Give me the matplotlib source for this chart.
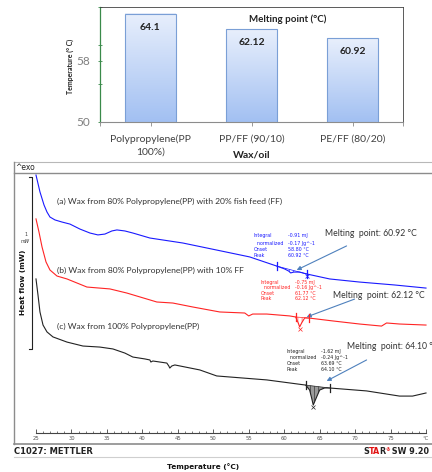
import numpy as np
import matplotlib
matplotlib.use("Agg")
import matplotlib.pyplot as plt
from matplotlib.ticker import MultipleLocator, FixedLocator
from matplotlib.colors import LinearSegmentedColormap

# ---------------- bar chart data ----------------
categories = ["Polypropylene(PP\n100%)", "PP/FF (90/10)", "PE/FF (80/20)"]
melting_points = [64.1, 62.12, 60.92]
bar_labels = ["64.1", "62.12", "60.92"]
bar_yticks = [50, 58]

# ---------------- DSC data (temperature °C, heat flow mW, exo up) ----------------
temp_a = [25.0, 25.56, 26.13, 26.55, 26.97, 27.68, 28.66, 29.79, 31.20, 32.61, 33.73,
          34.72, 35.70, 36.41, 37.54, 38.66, 41.06, 45.70, 50.49, 55.14, 58.94, 60.07,
          60.63, 60.92, 61.34, 62.18, 63.17, 66.41, 70.63, 75.56, 80.0]
hf_a = [-0.012, -0.110, -0.186, -0.227, -0.256, -0.273, -0.285, -0.297, -0.326, -0.349,
        -0.360, -0.355, -0.337, -0.331, -0.337, -0.349, -0.378, -0.407, -0.448, -0.488,
        -0.541, -0.558, -0.570, -0.581, -0.576, -0.576, -0.587, -0.616, -0.634, -0.651, -0.669]

temp_b = [25.0, 25.42, 25.85, 26.41, 26.97, 27.96, 29.37, 32.18, 35.42, 37.82, 42.04,
          44.30, 47.11, 50.92, 54.44, 55.0, 55.56, 57.54, 60.77, 61.62, 62.04, 62.18,
          62.46, 62.89, 63.45, 66.83, 70.63, 73.73, 74.44, 76.27, 80.0]
hf_b = [-0.267, -0.343, -0.430, -0.517, -0.564, -0.599, -0.616, -0.663, -0.674, -0.698,
        -0.750, -0.756, -0.779, -0.808, -0.814, -0.831, -0.820, -0.820, -0.831, -0.837,
        -0.878, -0.895, -0.872, -0.843, -0.843, -0.860, -0.878, -0.890, -0.872, -0.878, -0.884]

temp_c = [25.0, 25.28, 25.56, 25.99, 26.55, 27.39, 29.37, 31.62, 34.01, 35.85, 37.54,
          38.66, 40.35, 41.06, 41.20, 41.48, 43.45, 43.73, 43.87, 44.15, 44.58, 48.10,
          50.49, 57.54, 63.03, 63.59, 63.87, 64.10, 64.58, 65.0, 65.70, 66.41, 71.62,
          76.27, 78.10, 80.0]
hf_c = [-0.616, -0.709, -0.808, -0.884, -0.924, -0.953, -0.983, -1.006, -1.012, -1.023,
        -1.047, -1.070, -1.081, -1.087, -1.099, -1.093, -1.105, -1.122, -1.134, -1.122,
        -1.116, -1.145, -1.180, -1.203, -1.233, -1.262, -1.308, -1.349, -1.302, -1.262,
        -1.250, -1.250, -1.267, -1.297, -1.297, -1.279]

curve_labels = ["(a) Wax from 80% Polypropylene(PP) with 20% fish feed (FF)",
                "(b) Wax from 80% Polypropylene(PP) with 10% FF",
                "(c) Wax from 100% Polypropylene(PP)"]
int_ranges = [(58.94, 63.17), (61.62, 63.45), (63.03, 66.41)]
peak_temps = [60.92, 62.12, 64.10]
info_names = ["Integral", "  normalized", "Onset", "Peak"]
info_a = ["-0.91 mJ", "-0.17 Jg^-1", "58.80 \u00b0C", "60.92 \u00b0C"]
info_b = ["-0.75 mJ", "-0.16 Jg^-1", "61.77 \u00b0C", "62.12 \u00b0C"]
info_c = ["-1.62 mJ", "-0.24 Jg^-1", "63.69 \u00b0C", "64.10 \u00b0C"]
mp_texts = ["Melting  point: 60.92 \u00b0C", "Melting  point: 62.12 \u00b0C",
            "Melting  point: 64.10 \u00b0C"]
dsc_ticks = [25, 30, 35, 40, 45, 50, 55, 60, 65, 70, 75, 80]
dsc_ticklabels = ["25", "30", "35", "40", "45", "50", "55", "60", "65", "70", "75", "\u00b0C"]

plt.rcParams['font.family'] = ['Lato', 'DejaVu Sans']
plt.rcParams['hatch.linewidth'] = 0.4

W, H = 432, 472
fig = plt.figure(figsize=(W / 100, H / 100), dpi=100)

def frac(x0, y0, x1, y1):
    return [x0 / W, 1 - y1 / H, (x1 - x0) / W, (y1 - y0) / H]

# ---------------- overlay (frame lines, fixed texts) ----------------
ov = fig.add_axes([0, 0, 1, 1], zorder=0)
ov.set_xlim(0, W); ov.set_ylim(H, 0); ov.axis('off')
ov.plot([14, W], [162, 162], color='#b8b8b8', lw=0.8)
ov.plot([14, W], [173, 173], color='#8c8c8c', lw=1.0)
ov.plot([14, 14], [162, 444], color='#8c8c8c', lw=1.0)
ov.plot([14, W], [444, 444], color='#8c8c8c', lw=1.2)
ov.plot([14, W], [456.5, 456.5], color='#cfcfcf', lw=0.8)
ov.text(15, 167.5, "^exo", fontsize=5.5, family='DejaVu Sans', ha='left', va='center', color='#222')
ov.text(14, 451, "C1027: METTLER", fontsize=6, family='DejaVu Sans', fontweight='bold',
        ha='left', va='center', color='#222')
ov.text(203, 467, "Temperature (\u00b0C)", fontsize=5.3, family='DejaVu Sans', fontweight='bold',
        ha='center', va='center', color='#111')
ov.text(23, 282, "Heat flow (mW)", fontsize=5.3, family='DejaVu Sans', fontweight='bold',
        rotation=90, ha='center', va='center', color='#111')
ov.text(25.5, 235, "1", fontsize=3.3, family='DejaVu Sans', ha='center', va='center', color='#333')
ov.text(25.5, 241.5, "mW", fontsize=3.3, family='DejaVu Sans', style='italic', ha='center',
        va='center', color='#333')

# STAR(R) SW 9.20 logo text, pieces chained left to right
tp = dict(fontsize=5.8, family='DejaVu Sans', fontweight='bold')
tS = ov.text(363, 451, "S", ha='left', va='center', color='#222', **tp)
tTA = ov.annotate("TA", xy=(1, 0), xycoords=tS, ha='left', va='bottom', color='#e01010', **tp)
tR = ov.annotate("R", xy=(1, 0), xycoords=tTA, xytext=(-0.4, 0), textcoords='offset points',
                 ha='left', va='bottom', color='#222', **tp)
tReg = ov.annotate("\u00ae", xy=(1, 0.95), xycoords=tR, ha='left', va='top', color='#e01010',
                   fontsize=3.5, family='DejaVu Sans', fontweight='bold')
tSW = ov.annotate(" SW 9.20", xy=(1, 0), xycoords=tR, xytext=(2.6, 0), textcoords='offset points',
                  ha='left', va='bottom', color='#222', **tp)

# ---------------- bar chart ----------------
axb = fig.add_axes(frac(100, 7, 403, 122), zorder=2)
x = np.arange(len(categories))
bars = axb.bar(x, melting_points, width=0.5, facecolor='none', edgecolor='#7a9fd6', lw=0.8, zorder=3)
cmap = LinearSegmentedColormap.from_list('g', ['#a2c0f2', '#e8effc'])
grad = np.linspace(0, 1, 256).reshape(-1, 1)
for b in bars:
    bx, bw, bh = b.get_x(), b.get_width(), b.get_height()
    axb.imshow(grad, cmap=cmap, origin='lower', aspect='auto',
               extent=(bx, bx + bw, 50, bh), zorder=2)
for xi, v, lab in zip(x, melting_points, bar_labels):
    axb.text(xi, v - 1.75, lab, ha='center', va='center', fontsize=7.5, fontweight='bold', color='#222')
axb.set_xlim(-0.5, 2.5)
axb.set_ylim(50, 65)
axb.set_yticks(bar_yticks)
axb.set_yticklabels([str(t) for t in bar_yticks], fontsize=8.5, color='#7f7f7f')
axb.yaxis.set_minor_locator(FixedLocator([55, 60, 65]))
axb.tick_params(axis='y', which='both', direction='inout', length=3, width=0.6, colors='#3a8a4a',
                pad=6, labelcolor='#7f7f7f')
axb.set_xticks(x)
axb.set_xticklabels(categories, fontsize=7.5, color='#404040', linespacing=1.5)
axb.xaxis.set_minor_locator(FixedLocator([-0.5, 2.5]))
axb.tick_params(axis='x', which='both', direction='out', length=3, width=0.6, colors='#888888',
                pad=6, labelcolor='#404040')
axb.spines['left'].set_color('#3a8a4a')
axb.spines['left'].set_linewidth(0.9)
axb.spines['bottom'].set_color('#8c8c8c')
for s in ('top', 'right'):
    axb.spines[s].set_color('#404040')
    axb.spines[s].set_linewidth(0.6)
axb.text(0.62, 0.896, "Melting point (\u00b0C)", transform=axb.transAxes, ha='center', va='center',
         fontsize=7, fontweight='bold', color='#222')
axb.text(0.502, -0.29, "Wax/oil", transform=axb.transAxes, ha='center', va='center',
         fontsize=7.5, fontweight='bold', color='#222')
axb.text(-0.099, 0.487, "Temperature (\u00b0 C)", transform=axb.transAxes, ha='center', va='center',
         rotation=90, fontsize=5, fontweight='bold', color='#222')

# ---------------- DSC ----------------
axd = fig.add_axes(frac(36, 173, 426, 433), zorder=2)
axd.patch.set_visible(False)
axd.set_xlim(25, 80)
axd.set_ylim(-(433 - 173) / 172, 0)
for s in ('top', 'right', 'left'):
    axd.spines[s].set_visible(False)
axd.spines['bottom'].set_color('#444')
axd.spines['bottom'].set_linewidth(0.8)
axd.set_yticks([])
axd.set_xticks(dsc_ticks)
axd.set_xticklabels(dsc_ticklabels, fontsize=3.8, color='#555', family='DejaVu Sans')
axd.xaxis.set_minor_locator(MultipleLocator(1))
axd.tick_params(axis='x', which='major', direction='in', length=3, width=0.6, color='#444', pad=2.5)
axd.tick_params(axis='x', which='minor', direction='in', length=1.5, width=0.5, color='#444')

series = [(temp_a, hf_a, '#1a1aff', info_a), (temp_b, hf_b, '#ff2424', info_b),
          (temp_c, hf_c, '#222222', info_c)]
for (T, Y, col, info), (lo, hi), pk in zip(series, int_ranges, peak_temps):
    T = np.array(T); Y = np.array(Y)
    axd.plot(T, Y, color=col, lw=0.8, clip_on=False, zorder=3)
    m = (T >= lo) & (T <= hi)
    Ts, Ys = T[m], Y[m]
    base = Ys[0] + (Ys[-1] - Ys[0]) * (Ts - Ts[0]) / (Ts[-1] - Ts[0])
    fc = '#9a9a9a' if col == '#222222' else 'none'
    axd.fill_between(Ts, Ys, base, facecolor=fc, edgecolor=col, hatch='||||', lw=0, zorder=2)
    axd.plot([Ts[0], Ts[-1]], [Ys[0], Ys[-1]], color=col, lw=0.5, zorder=3)
    for tt, yy in ((Ts[0], Ys[0]), (Ts[-1], Ys[-1])):
        axd.plot([tt, tt], [yy - 0.022, yy + 0.022], color=col, lw=0.9, zorder=4)
    ip = int(np.argmin(Ys))
    axd.plot(Ts[ip], Ys[ip] - 0.012, marker='x', ms=2.2, mew=0.5, color=col, zorder=4)

# scale bar: 1 mW
axd.plot([24.06, 24.39, 24.39, 24.06], [-0.023, -0.023, -1.023, -1.023], color='#222', lw=0.8,
         clip_on=False)

# curve labels
for lab, yy in zip(curve_labels, [-0.163, -0.564, -0.890]):
    axd.text(27.96, yy, lab, fontsize=6.1, color='#333', ha='left', va='center')

# info blocks
blocks = [(info_a, '#1a1aff', 55.7, 60.5, [-0.366, -0.407, -0.442, -0.477]),
          (info_b, '#ff2424', 56.69, 61.5, [-0.634, -0.666, -0.698, -0.727]),
          (info_c, '#222222', 60.35, 65.14, [-1.035, -1.070, -1.105, -1.140])]
for info, col, xl, xv, ys in blocks:
    for nm, val, yy in zip(info_names, info, ys):
        axd.text(xl, yy, nm, fontsize=3.4, color=col, ha='left', va='center', family='DejaVu Sans')
        axd.text(xv, yy, val, fontsize=3.4, color=col, ha='left', va='center', family='DejaVu Sans')

# melting point annotations
mp_pos = [(65.70, -0.349), (66.83, -0.715), (68.80, -1.006)]
arrows = [((68.80, -0.424), (61.76, -0.564)), ((69.93, -0.733), (63.17, -0.837)),
          ((71.62, -1.087), (65.99, -1.209))]
for txt, (tx, ty), (tail, head) in zip(mp_texts, mp_pos, arrows):
    axd.text(tx, ty, txt, fontsize=6.2, color='#333', ha='left', va='center', clip_on=False)
    axd.annotate("", xy=head, xytext=tail, annotation_clip=False,
                 arrowprops=dict(arrowstyle='-|>', color='#4f81bd', lw=0.8, mutation_scale=6,
                                 shrinkA=0, shrinkB=0))

fig.savefig("out.png", dpi=100)
